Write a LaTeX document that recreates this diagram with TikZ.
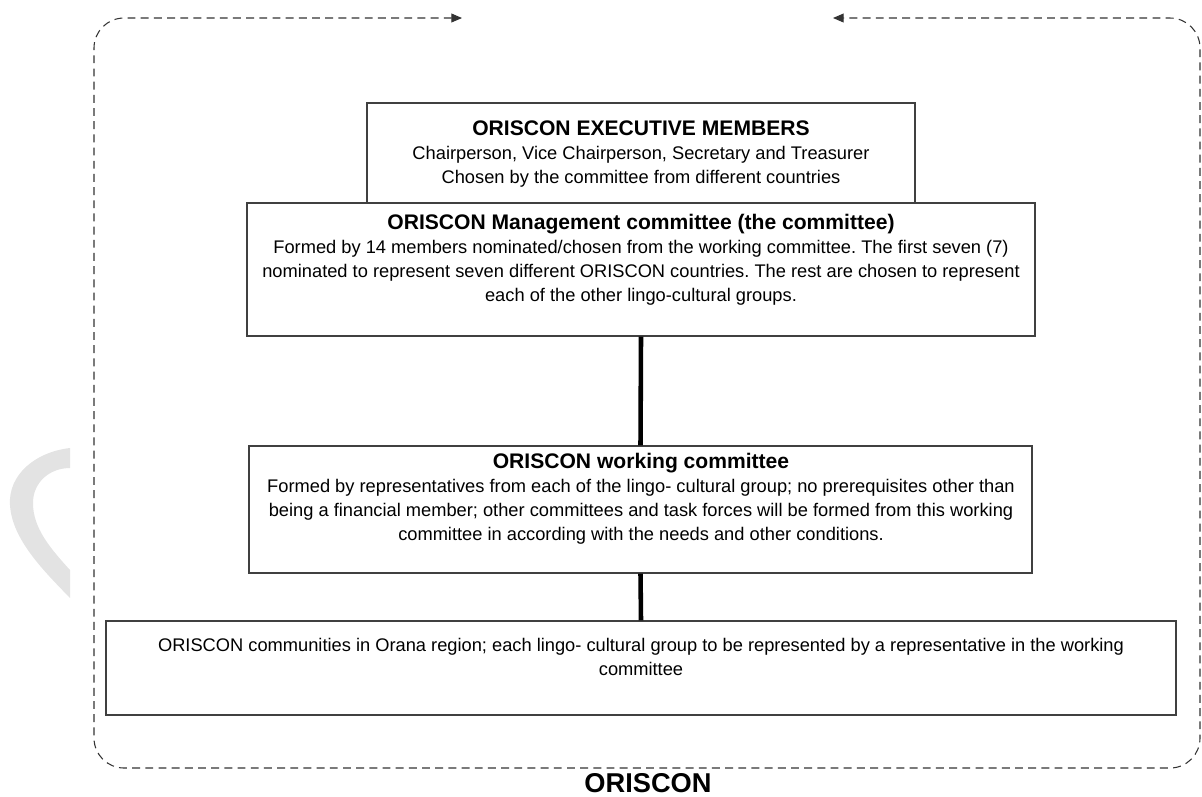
\documentclass[tikz,border=0pt]{standalone}
\usepackage{fontspec}
\setmainfont{Liberation Sans}
\usetikzlibrary{arrows.meta,positioning}
\frenchspacing

\begin{document}
\begin{tikzpicture}[x=0.02cm,y=-0.02cm,
	box/.style={draw=black!75,line width=0.8pt,fill=white,inner sep=0pt},
	txt/.style={align=center,font=\fontsize{10.4}{13.6}\selectfont,inner sep=0pt},
	link/.style={line width=2.6pt,black},
	frame/.style={dash pattern=on 4.5pt off 3pt,black!80,line width=0.6pt,rounded corners=0.6cm}]
\useasboundingbox (0,0) rectangle (1202,796);

	% grey mark on the left
	\fill[gray!22] (70,448) .. controls (35,452) and (8,475) .. (10,505)
		.. controls (12,540) and (45,572) .. (70,598) -- (70,570)
		.. controls (50,548) and (33,528) .. (33,503)
		.. controls (33,482) and (50,468) .. (70,468) -- cycle;

	% dashed frame
	\coordinate (arrR) at (462,18);
	\coordinate (arrL) at (833,18);
	\draw[frame,{Triangle[length=6pt,width=5pt]}-{Triangle[length=6pt,width=5pt]}]
		(arrR) -- (94,18) -- (94,768) -- (1200,768) -- (1200,18) -- (arrL);

	% boxes
	\node[box,minimum width=10.96cm,minimum height=2cm] (exec) at (641,153) {};
	\node[box,minimum width=15.76cm,minimum height=2.66cm] (mgmt) at (641,269.5) {};
	\node[box,minimum width=15.66cm,minimum height=2.54cm] (work) at (640.5,509.5) {};
	\node[box,minimum width=21.4cm,minimum height=1.88cm] (comm) at (641,668) {};

	% texts
	\node[txt] (execT) at (641,154) {{\bfseries\fontsize{12}{14}\selectfont ORISCON EXECUTIVE MEMBERS}\\
		Chairperson, Vice Chairperson, Secretary and Treasurer\\
		Chosen by the committee from different countries};
	\node[txt] (mgmtT) at (641,260) {{\bfseries\fontsize{12}{14}\selectfont ORISCON Management committee (the committee)}\\
		Formed by 14 members nominated/chosen from the working committee. The first seven (7)\\
		nominated to represent seven different ORISCON countries. The rest are chosen to represent\\
		each of the other lingo-cultural groups.};
	\node[txt] (workT) at (641,499) {{\bfseries\fontsize{12}{14}\selectfont ORISCON working committee}\\
		Formed by representatives from each of the lingo- cultural group; no prerequisites other than\\
		being a financial member; other committees and task forces will be formed from this working\\
		committee in according with the needs and other conditions.};
	\node[txt] (commT) at (641,657) {ORISCON communities in Orana region; each lingo- cultural group to be represented by a representative in the working\\
		committee};

	% links
	\draw[link] (mgmt.south) -- (work.north);
	\draw[link] (work.south) -- (comm.north);

	\node[font=\bfseries\fontsize{15.5}{18}\selectfont,inner sep=0pt] (name) at (648,783) {ORISCON};

\end{tikzpicture}
\end{document}
